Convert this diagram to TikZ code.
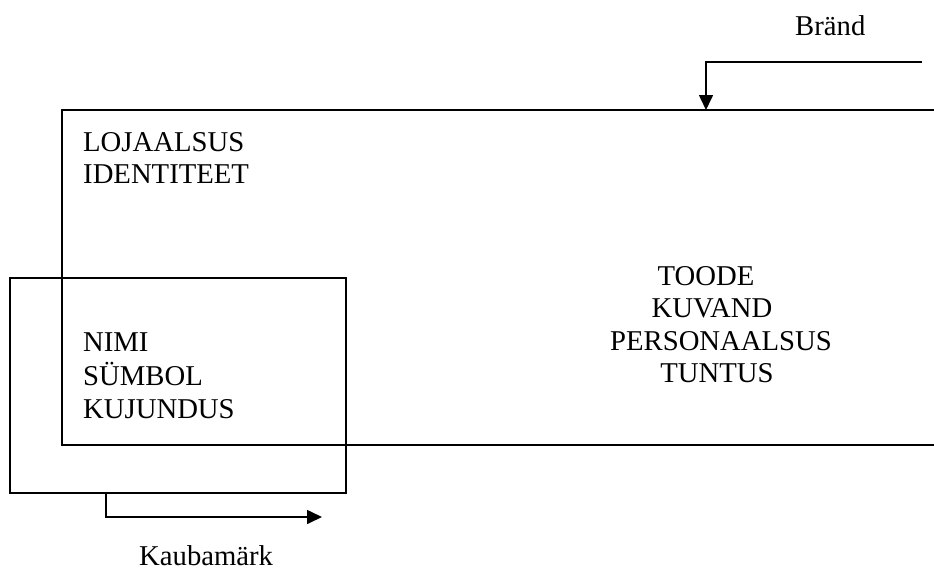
\documentclass[tikz,border=0pt]{standalone}
\usepackage{fontspec}
\setmainfont{Liberation Serif}
\usetikzlibrary{arrows.meta}
\tikzset{
  lbl/.style={inner sep=0pt, font=\fontsize{28.7}{32.5}\selectfont},
  frame/.style={line width=1.6pt},
  arr/.style={line width=1.6pt, -{Triangle[width=14pt,length=15pt]}}
}
\begin{document}
\begin{tikzpicture}[x=1pt,y=-1pt]
\useasboundingbox (0,0) rectangle (934,573);
% big (brand) frame, open at right
\draw[frame] (934,110) -- (62,110) -- (62,445) -- (934,445);
% small (trademark) frame
\draw[frame] (10,278) rectangle (346,493);
% arrows
\coordinate (bstart) at (922,62);
\coordinate (bend) at (706,110);
\draw[arr] (bstart) -| (bend);
\coordinate (kstart) at (106,493);
\coordinate (kend) at (322,517);
\draw[arr] (kstart) |- (kend);
% texts
\node[lbl, anchor=base west] (brand) at (795,35) {Bränd};
\node[lbl, anchor=base west] (loj) at (83,151) {LOJAALSUS};
\node[lbl, anchor=base west] (ident) at (83,183) {IDENTITEET};
\node[lbl, anchor=base west] (nimi) at (83,351) {NIMI};
\node[lbl, anchor=base west] (symb) at (83,385) {SÜMBOL};
\node[lbl, anchor=base west] (kuj) at (83,418) {KUJUNDUS};
\node[lbl, anchor=base] (toode) at (706,285) {TOODE};
\node[lbl, anchor=base] (kuv) at (712,317) {KUVAND};
\node[lbl, anchor=base] (pers) at (721,350) {PERSONAALSUS};
\node[lbl, anchor=base] (tunt) at (717,382) {TUNTUS};
\node[lbl, anchor=base west] (kaub) at (139,565) {Kaubamärk};
\end{tikzpicture}
\end{document}
